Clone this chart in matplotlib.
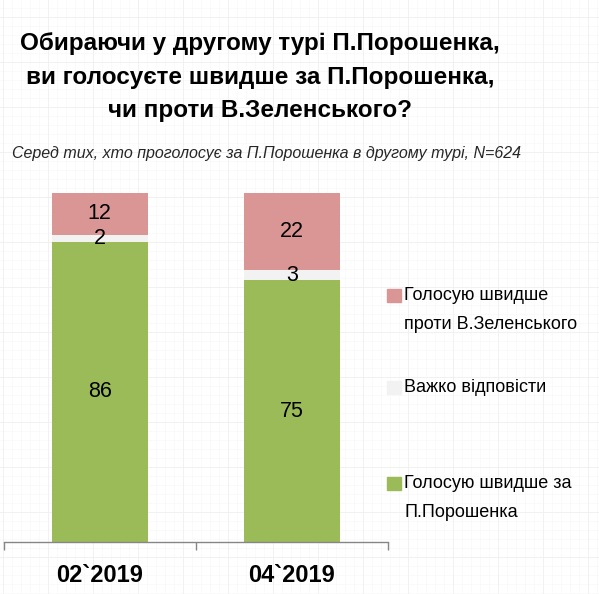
import numpy as np
import matplotlib
matplotlib.use('Agg')
import matplotlib.pyplot as plt
from matplotlib.patches import Rectangle

plt.rcParams['font.family'] = ['Liberation Sans', 'DejaVu Sans']

# дані
periods = ['02`2019', '04`2019']
za_poroshenka = [86, 75]
vazhko = [2, 3]
proty_zelenskoho = [12, 22]
series_labels = ['Голосую швидше\nпроти В.Зеленського', 'Важко відповісти',
                 'Голосую швидше за\nП.Порошенка']

c_green = '#9bbb59'
c_gray = '#f2f2f2'
c_pink = '#d99694'

W, H = 599, 594
fig = plt.figure(figsize=(W / 100, H / 100), dpi=100)

# фон "міліметрівка"
bg = fig.add_axes([0, 0, 1, 1], zorder=-10)
bg.set_xlim(0, W)
bg.set_ylim(H, 0)
bg.axis('off')
for x in np.arange(3, W, 9):
    bg.axvline(x, color='#f9f9f9', lw=0.5)
for y in np.arange(8, H, 9):
    bg.axhline(y, color='#f9f9f9', lw=0.5)
for x in np.arange(3, W, 45):
    bg.axvline(x, color='#f0f0f0', lw=0.6)
for y in np.arange(17, H, 45):
    bg.axhline(y, color='#f0f0f0', lw=0.6)

ax = fig.add_axes([3.5 / W, (H - 542) / H, (388 - 3.5) / W, (542 - 193) / H])
ax.patch.set_alpha(0)
x = np.arange(len(periods))
bw = 0.5
b1 = ax.bar(x, za_poroshenka, bw, color=c_green)
b2 = ax.bar(x, vazhko, bw, bottom=za_poroshenka, color=c_gray)
bottom3 = np.array(za_poroshenka) + np.array(vazhko)
b3 = ax.bar(x, proty_zelenskoho, bw, bottom=bottom3, color=c_pink)
for bars in (b1, b2, b3):
    ax.bar_label(bars, label_type='center', fontsize=15.5, color='black')

ax.set_xlim(-0.5, 1.5)
ax.set_ylim(0, 100)
for s in ('top', 'right', 'left'):
    ax.spines[s].set_visible(False)
ax.spines['bottom'].set_color('#868686')
ax.spines['bottom'].set_linewidth(1)
ax.set_yticks([])
ax.set_xticks(x)
ax.set_xticklabels(periods, fontsize=17, fontweight='bold')
ax.tick_params(axis='x', which='major', length=0, pad=16)
ax.set_xticks([-0.5, 0.5, 1.5], minor=True)
ax.tick_params(axis='x', which='minor', length=6, width=1, color='#868686', direction='out')

# заголовок
title_lines = ['Обираючи у другому турі П.Порошенка,',
               'ви голосуєте швидше за П.Порошенка,',
               'чи проти В.Зеленського?']
for line, yb in zip(title_lines, [50, 84, 117]):
    fig.text(260 / W, 1 - yb / H, line, ha='center', va='baseline',
             fontsize=17.5, fontweight='bold')
fig.text(12 / W, 1 - 158 / H,
         'Серед тих, хто проголосує за П.Порошенка в другому турі, N=624',
         ha='left', va='baseline', fontsize=11.5, style='italic', color='#262626')

# легенда
leg_colors = [c_pink, c_gray, c_green]
leg_tops = [289, 381, 477]
for lab, col, yt in zip(series_labels, leg_colors, leg_tops):
    fig.patches.append(Rectangle((387 / W, 1 - (yt + 13) / H), 14 / W, 13 / H,
                                 transform=fig.transFigure, color=col))
    fig.text(404 / W, 1 - (yt - 2) / H, lab, ha='left', va='top',
             fontsize=13, linespacing=1.9)

fig.savefig('out.png', dpi=100)
